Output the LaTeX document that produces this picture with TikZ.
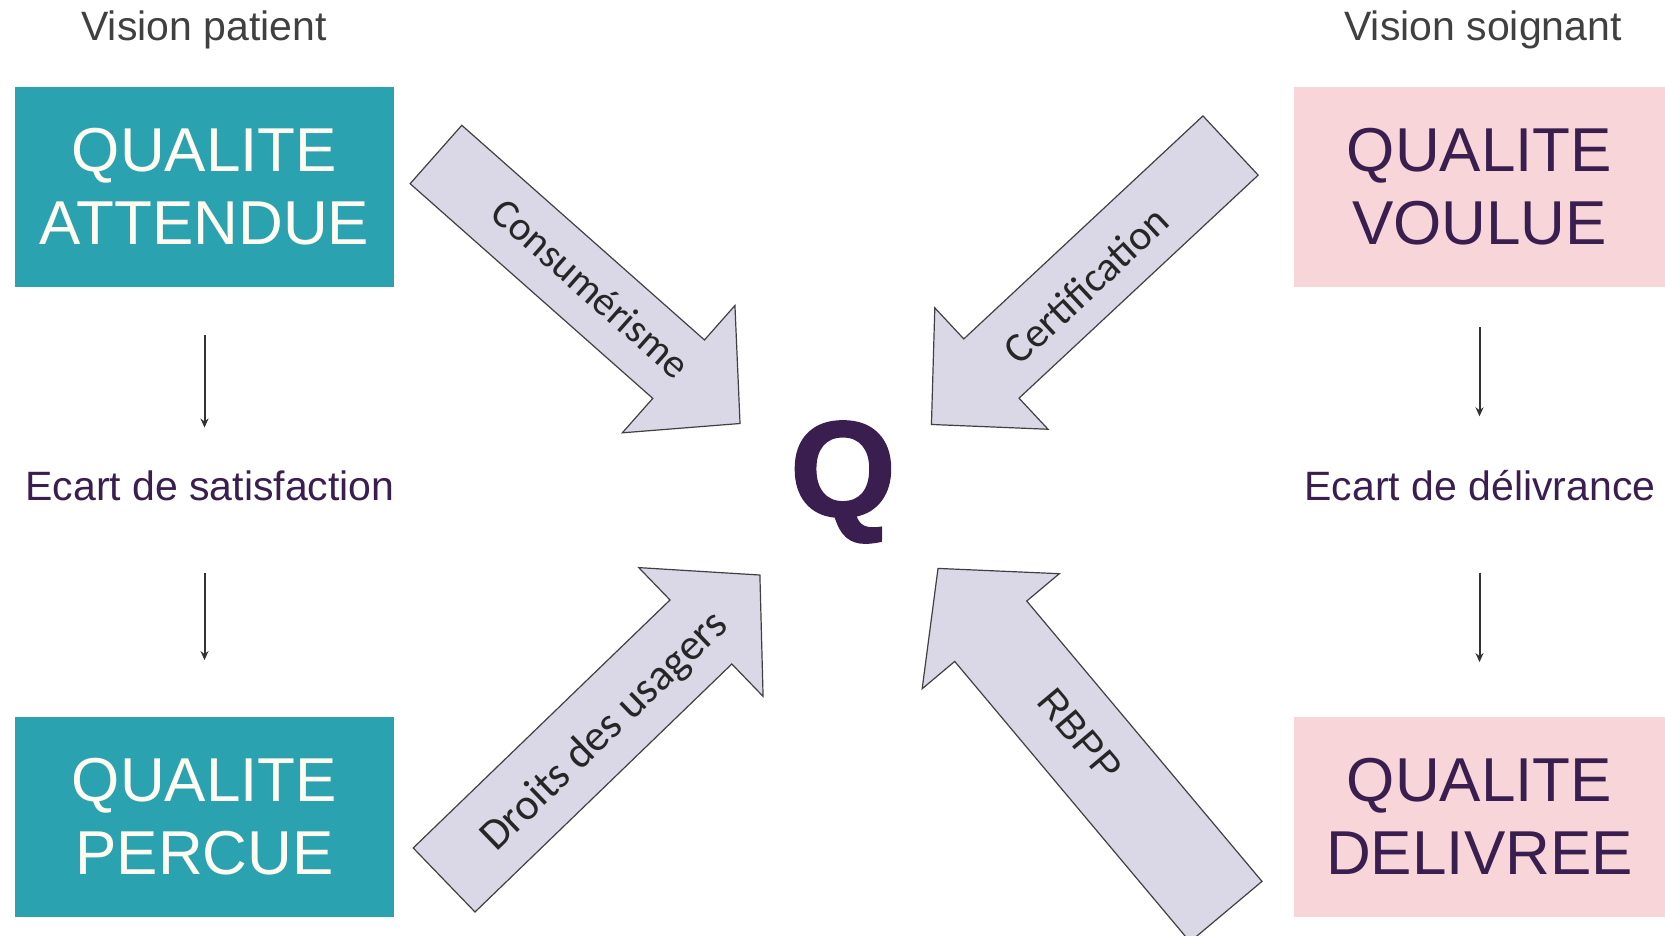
\documentclass[tikz,border=0pt]{standalone}
\usepackage{fontspec}
\setmainfont{Liberation Sans}
\newfontfamily\calibri{Carlito}
\newfontfamily\qfont[FakeBold=1.5]{Liberation Sans Bold}
\usetikzlibrary{positioning, arrows.meta}

\definecolor{tealbox}{HTML}{2AA2AF}
\definecolor{pinkbox}{HTML}{F8D5D9}
\definecolor{plum}{HTML}{3A1E50}
\definecolor{lilac}{HTML}{DAD7E6}
\definecolor{cream}{HTML}{FFFBF0}
\definecolor{greytext}{HTML}{404040}

\tikzset{
    x=0.5pt, y=0.5pt, % one unit is one pixel of the slide
    patientbox/.style={fill=tealbox, text=cream, minimum width=189.5pt, minimum height=100pt,
        align=center, font=\fontsize{31}{36.5}\selectfont},
    soignantbox/.style={patientbox, fill=pinkbox, text=plum, minimum width=185.5pt},
    vision/.style={text=greytext, font=\fontsize{20.5}{24}\selectfont},
    ecart/.style={text=plum, inner sep=0pt, font=\fontsize{20.5}{24}\selectfont},
    gap/.style={draw=black!80, line width=1pt, -{Stealth[length=4.5pt,width=4pt]}},
    bigarrow/.style={fill=lilac, draw=greytext, line width=0.6pt, line join=miter},
    arrowlabel/.style={text=black!85, font=\calibri\fontsize{20.5}{24}\selectfont},
}

% block arrow: centre, angle, half length, half shaft, half head
\newcommand{\blockarrow}[5]{%
    \begin{scope}[shift={#1}, rotate=#2]
        \draw[bigarrow] (-#3,-#4) -- ({#3-82},-#4) -- ({#3-82},-#5) -- (#3,0)
            -- ({#3-82},#5) -- ({#3-82},#4) -- (-#3,#4) -- cycle;
    \end{scope}}

\begin{document}
\begin{tikzpicture}
    \useasboundingbox (0,0) rectangle (1665,-936);
    \clip (0,0) rectangle (1665,-936);

    % patient side
    \node[vision] (vpat) at (204,-30) {Vision patient};
    \node[patientbox] (att) at (204.5,-187) {QUALITE\\ATTENDUE};
    \node[ecart] (sat) at (210,-486) {Ecart de satisfaction};
    \node[patientbox] (perc) at (204.5,-816.5) {QUALITE\\PERCUE};
    \draw[gap, shorten <=24pt, shorten >=21.5pt] (att.south) -- (att.south |- sat.north);
    \draw[gap, shorten <=36pt, shorten >=28pt] (att.south |- sat.south) -- (perc.north);

    % soignant side
    \node[vision] (vsoi) at (1483,-30) {Vision soignant};
    \node[soignantbox] (voul) at (1479.5,-187) {QUALITE\\VOULUE};
    \node[ecart] (deliv) at (1480,-486) {Ecart de délivrance};
    \node[soignantbox] (delv) at (1479.5,-816.5) {QUALITE\\DELIVREE};
    \draw[gap, shorten <=20pt, shorten >=27pt] (voul.south) -- (voul.south |- deliv.north);
    \draw[gap, shorten <=35.5pt, shorten >=27pt] (voul.south |- deliv.south) -- (delv.north);

    % centre
    \node[text=plum, font=\qfont\fontsize{68}{68}\selectfont] (q) at (843,-482) {Q};

    \blockarrow{(588,-289)}{-41.5}{203}{39}{85}
    \blockarrow{(1081,-285)}{223}{204.5}{40.5}{83}
    \blockarrow{(602,-727.5)}{44}{219.5}{44.5}{89.5}
    \blockarrow{(1082,-740)}{130}{224}{47}{89.5}
    \node[arrowlabel, rotate=-41.5] (cons) at (591,-288) {Consumérisme};
    \node[arrowlabel, rotate=43, font=\calibri\fontsize{21}{24}\selectfont] (cert) at (1086,-285) {Certification};
    \node[arrowlabel, rotate=44, font=\calibri\fontsize{22}{26}\selectfont] (droit) at (605,-732) {Droits des usagers};
    \node[arrowlabel, rotate=-50, font=\fontsize{19.5}{23}\selectfont] (rbpp) at (1080,-735) {RBPP};
\end{tikzpicture}
\end{document}
